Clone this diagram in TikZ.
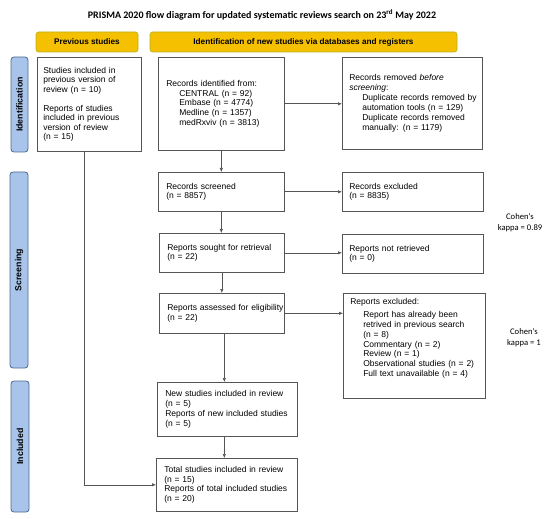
\documentclass[tikz,border=0pt]{standalone}
\usepackage{fontspec}
\setmainfont{Liberation Sans}
\newfontfamily\carlito{Carlito}
\usetikzlibrary{arrows.meta,positioning}
\definecolor{hdrfill}{HTML}{F5C000}
\definecolor{hdrdraw}{HTML}{B4B01E}
\definecolor{sidefill}{HTML}{A9C4EB}
\definecolor{sidedraw}{HTML}{4F6A8F}
\definecolor{boxdraw}{HTML}{555555}
\newcommand\nw[1]{\mbox{#1}}
\newcommand\ind[1]{\hspace*{13pt}\mbox{#1}}
\begin{document}
\begin{tikzpicture}[x=1pt,y=-1pt,
  box/.style={draw=boxdraw, line width=0.6pt, anchor=north west, align=left,
    inner xsep=8pt, inner ysep=3pt, font=\fontsize{8.5}{9.9}\selectfont},
  hdr/.style={draw=hdrdraw, fill=hdrfill, rounded corners=2.5pt, line width=0.6pt,
    font=\bfseries\fontsize{8.2}{9}\selectfont},
  side/.style={draw=sidedraw, fill=sidefill, rounded corners=3pt, line width=0.8pt},
  sidetxt/.style={rotate=90, font=\bfseries\fontsize{8.8}{9}\selectfont},
  arr/.style={draw=boxdraw, line width=0.6pt, -{Latex[length=4pt,width=3.5pt]}},
  kap/.style={align=center, font=\carlito\fontsize{8.6}{11}\selectfont}]
\useasboundingbox (0,0) rectangle (550,519);

\node[font=\carlito\bfseries\fontsize{10}{12}\selectfont] (title) at (262,15)
  {PRISMA 2020 flow diagram for updated systematic reviews search on 23\textsuperscript{rd} May 2022};

% headers
\node[hdr, minimum width=102pt, minimum height=20pt] (hprev) at (87,42) {Previous studies};
\node[hdr, minimum width=307pt, minimum height=20pt] (hnew) at (303.5,42) {Identification of new studies via databases and registers};

% side labels
\node[side, minimum width=17pt, minimum height=95pt] (sid) at (19.5,104.5) {};
\node[sidetxt] (sidt) at (sid.center) {Identification};
\node[side, minimum width=18pt, minimum height=196pt] (sscr) at (19,270) {};
\node[sidetxt] (sscrt) at (sscr.center) {Screening};
\node[side, minimum width=18pt, minimum height=131pt] (sinc) at (20,446.5) {};
\node[sidetxt] (sinct) at (sinc.center) {Included};

% boxes
\node[box, text width=92pt, minimum height=94pt, font=\fontsize{8.5}{9.4}\selectfont, inner xsep=6pt] (prev) at (37,57)
  {\nw{Studies included in}\\\nw{previous version of}\\\nw{review (n = 10)}\\[10pt]\nw{Reports of studies}\\\nw{included in previous}\\\nw{version of review}\\\nw{(n = 15)}};
\node[box, text width=110pt, minimum height=93pt] (ident) at (158,57)
  {\nw{Records identified from:}\\\ind{CENTRAL (n = 92)}\\\ind{Embase (n = 4774)}\\\ind{Medline (n = 1357)}\\\ind{medRxviv (n = 3813)}};
\node[box, text width=126pt, minimum height=92pt, inner xsep=7pt] (removed) at (342,57)
  {\nw{Records removed \textit{before}}\\\nw{\textit{screening}:}\\\ind{Duplicate records removed by}\\\ind{automation tools (n = 129)}\\\ind{Duplicate records removed}\\\ind{manually: (n = 1179)}};
\node[box, text width=110pt, minimum height=39pt] (screened) at (158,172)
  {\nw{Records screened}\\\nw{(n = 8857)}};
\node[box, text width=127pt, minimum height=39pt, inner xsep=7pt] (excl) at (342,172)
  {\nw{Records excluded}\\\nw{(n = 8835)}};
\node[box, text width=109pt, minimum height=39pt] (sought) at (159,233)
  {\nw{Reports sought for retrieval}\\\nw{(n = 22)}};
\node[box, text width=127pt, minimum height=39pt, inner xsep=7pt] (notret) at (342,234)
  {\nw{Reports not retrieved}\\\nw{(n = 0)}};
\node[box, text width=109pt, minimum height=40pt] (assessed) at (159,293)
  {\nw{Reports assessed for eligibility}\\\nw{(n = 22)}};
\node[box, text width=128pt, minimum height=104pt, inner ysep=5pt, inner xsep=7pt] (repexcl) at (343,293)
  {\nw{Reports excluded:}\\[3pt]\ind{Report has already been}\\\ind{retrived in previous search}\\\ind{(n = 8)}\\\ind{Commentary (n = 2)}\\\ind{Review (n = 1)}\\\ind{Observational studies (n = 2)}\\\ind{Full text unavailable (n = 4)}\\\rule{0pt}{14pt}};
\node[box, text width=124pt, minimum height=54pt] (new) at (157,382)
  {\nw{New studies included in review}\\\nw{(n = 5)}\\\nw{Reports of new included studies}\\\nw{(n = 5)}};
\node[box, text width=125pt, minimum height=53pt] (total) at (156,458)
  {\nw{Total studies included in review}\\\nw{(n = 15)}\\\nw{Reports of total included studies}\\\nw{(n = 20)}};

% kappa notes
\node[kap] (k1) at (520,223) {Cohen's\\kappa = 0.89};
\node[kap] (k2) at (524,338) {Cohen's\\kappa = 1};

% arrows
\draw[arr] (ident.south) -- (ident.south |- screened.north);
\draw[arr] (ident.east) -- (ident.east -| removed.west);
\draw[arr] (screened.east) -- (screened.east -| excl.west);
\draw[arr] (screened.south) -- (screened.south |- sought.north);
\draw[arr] (sought.east) -- (sought.east -| notret.west);
\draw[arr] (sought.south) -- (sought.south |- assessed.north);
\draw[arr] (assessed.east) -- (assessed.east -| repexcl.west);
\draw[arr] ([xshift=2.5pt]assessed.south) -- ([xshift=2.5pt]assessed.south |- new.north);
\draw[arr] ([xshift=-3pt]new.south) -- ([xshift=-3pt]new.south |- total.north);
\draw[arr] ([xshift=-5pt]prev.south) |- (total.west);
\end{tikzpicture}
\end{document}
